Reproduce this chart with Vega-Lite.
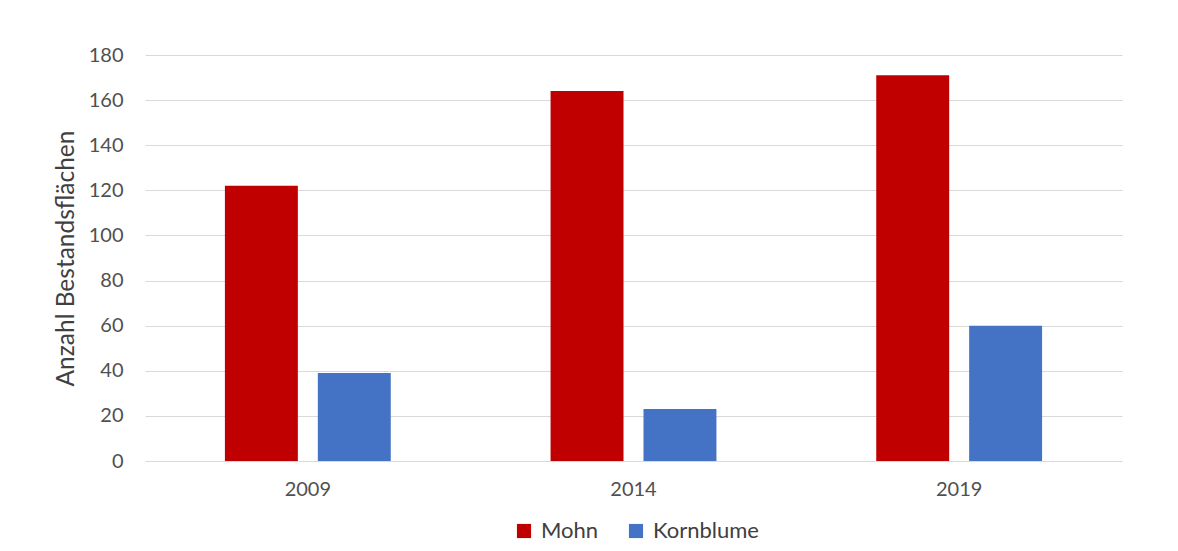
{
  "$schema": "https://vega.github.io/schema/vega-lite/v6.json",
  "width": 977,
  "height": 406,
  "autosize": {"type": "none"},
  "padding": {"left": 145, "top": 55, "right": 56, "bottom": 90},
  "background": "white",
  "config": {
    "view": {"stroke": null},
    "font": "Lato",
    "axis": {"labelColor": "#505050", "titleColor": "#404040", "labelFont": "Lato", "titleFont": "Lato"}
  },
  "data": {
    "values": [
      {"Jahr": "2009", "Art": "Mohn", "Anzahl": 122},
      {"Jahr": "2009", "Art": "Kornblume", "Anzahl": 39},
      {"Jahr": "2014", "Art": "Mohn", "Anzahl": 164},
      {"Jahr": "2014", "Art": "Kornblume", "Anzahl": 23},
      {"Jahr": "2019", "Art": "Mohn", "Anzahl": 171},
      {"Jahr": "2019", "Art": "Kornblume", "Anzahl": 60}
    ]
  },
  "mark": {"type": "bar"},
  "encoding": {
    "x": {
      "field": "Jahr",
      "type": "nominal",
      "scale": {"paddingInner": 0, "paddingOuter": 0},
      "axis": {"title": null, "labelAngle": 0, "labelFontSize": 20, "labelPadding": 18, "domain": false, "ticks": false}
    },
    "xOffset": {
      "field": "Art",
      "type": "nominal",
      "sort": ["Mohn", "Kornblume"],
      "scale": {"paddingInner": 0.215, "paddingOuter": 0.86}
    },
    "y": {
      "field": "Anzahl",
      "type": "quantitative",
      "scale": {"domain": [0, 180], "nice": false},
      "axis": {
        "title": "Anzahl Bestandsflächen",
        "values": [0, 20, 40, 60, 80, 100, 120, 140, 160, 180],
        "titleFontSize": 24.5,
        "titleFontWeight": "normal",
        "titleX": -79,
        "titleBaseline": "middle",
        "labelFontSize": 20,
        "labelPadding": 22,
        "domain": false,
        "ticks": false,
        "gridColor": "#d9d9d9",
        "gridWidth": 1
      }
    },
    "color": {
      "field": "Art",
      "type": "nominal",
      "sort": ["Mohn", "Kornblume"],
      "scale": {"domain": ["Mohn", "Kornblume"], "range": ["#C00000", "#4472C4"]},
      "legend": {
        "title": null,
        "orient": "none",
        "direction": "horizontal",
        "legendX": 368,
        "legendY": 465,
        "symbolType": "square",
        "symbolSize": 200,
        "symbolStrokeWidth": 0,
        "symbolOpacity": 1,
        "labelFontSize": 22,
        "labelColor": "#404040",
        "labelFont": "Lato",
        "columnPadding": 26,
        "labelOffset": 6
      }
    }
  }
}
